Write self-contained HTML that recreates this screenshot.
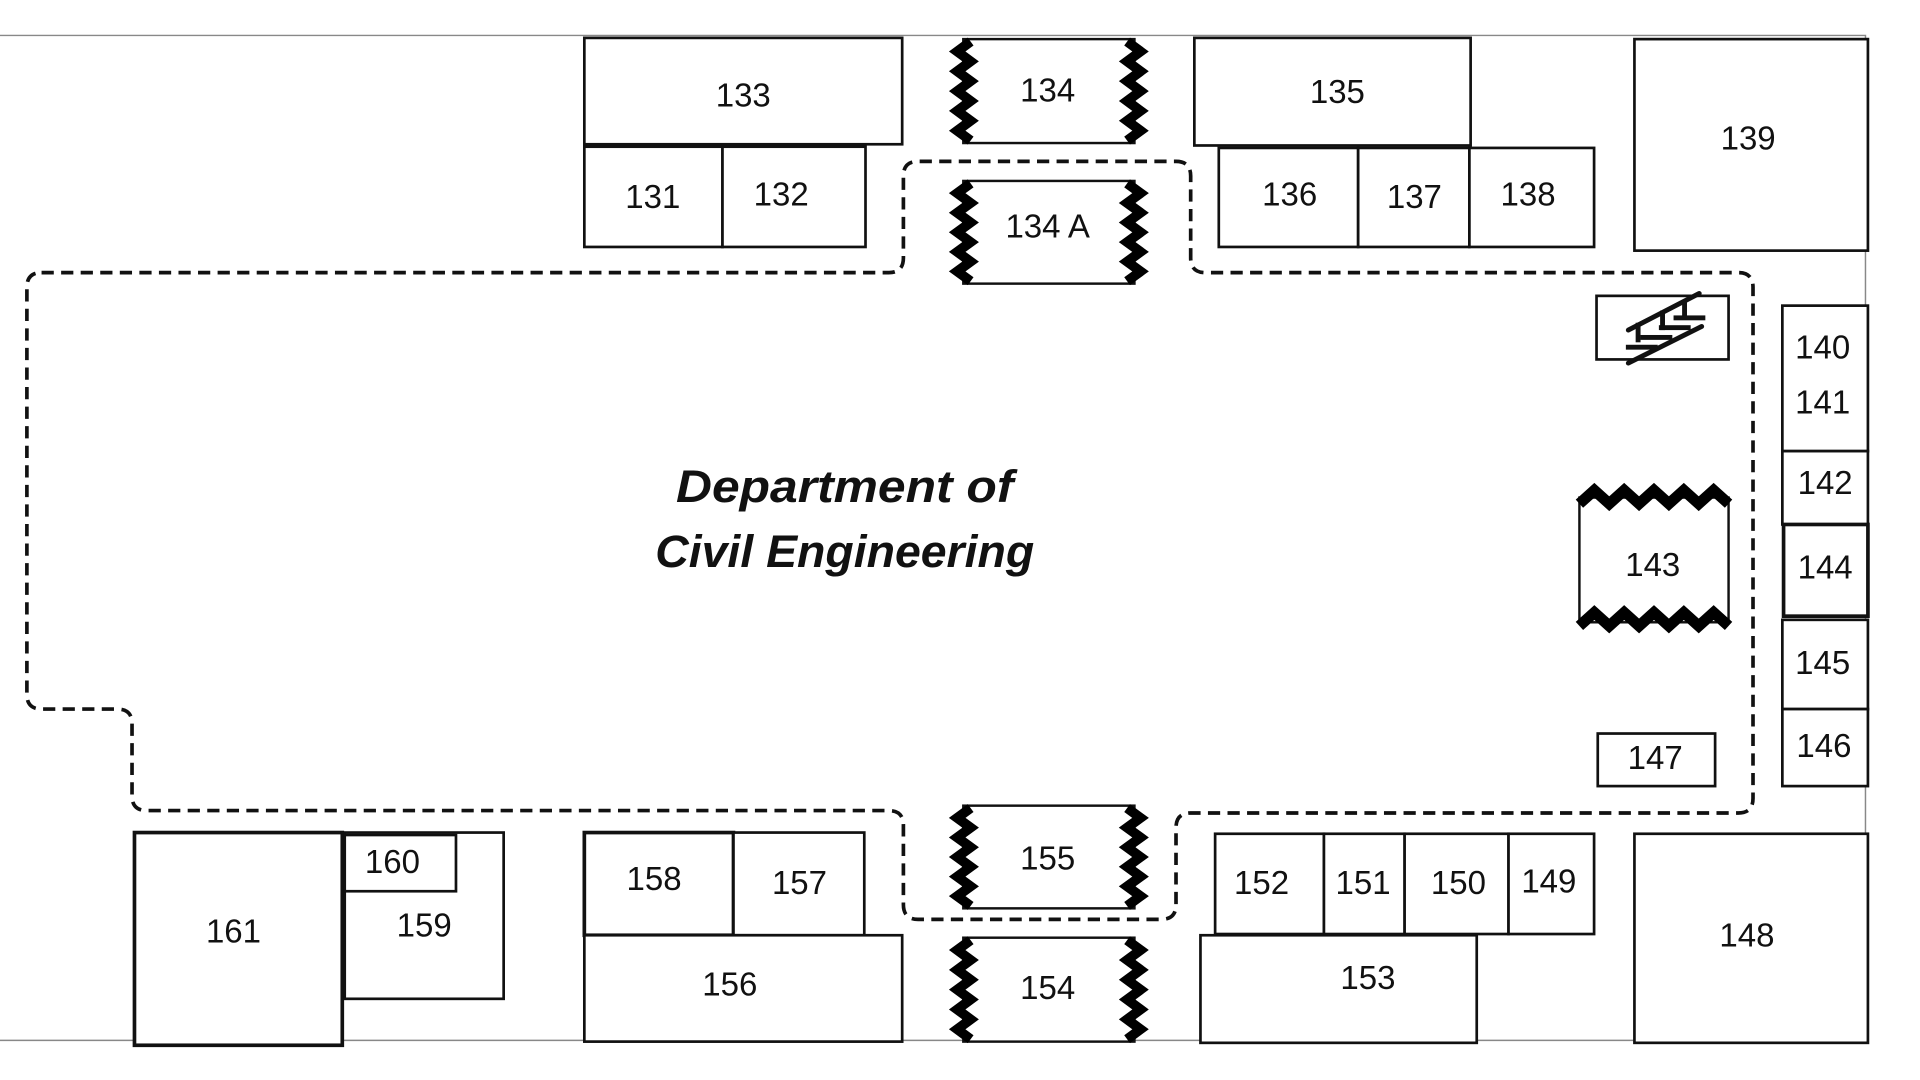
<!DOCTYPE html>
<html><head><meta charset="utf-8"><style>
html,body{margin:0;padding:0;background:#fff;width:1920px;height:1080px;overflow:hidden}
svg{display:block}
text{font-family:"Liberation Sans",sans-serif;font-size:27px;fill:#111;text-anchor:middle;dominant-baseline:middle}
</style></head><body>
<svg id="s" width="1920" height="1080" viewBox="0 0 1570.6 883.4" preserveAspectRatio="none">
<g transform="translate(2,2)">
<g fill="none" stroke="#888" stroke-width="1.2">
<path d="M-2 27 H1524 V849 H-2"/>
</g>
<g fill="#fff" stroke="#111" stroke-width="2.2">
<rect x="476" y="29" width="260" height="87"/>
<rect x="975" y="29" width="226" height="88"/>
<rect x="1335" y="30" width="191" height="173"/>
<rect x="476" y="118" width="113" height="82"/>
<rect x="589" y="118" width="117" height="82"/>
<rect x="995" y="119" width="114" height="81"/>
<rect x="1109" y="119" width="91" height="81"/>
<rect x="1200" y="119" width="102" height="81"/>
<rect x="1304" y="240" width="108" height="52"/>
<rect x="1456" y="248" width="70" height="119"/>
<rect x="1456" y="367" width="70" height="60"/>
<rect x="1457" y="427" width="69" height="75" stroke-width="3"/>
<rect x="1456" y="505" width="70" height="73"/>
<rect x="1456" y="578" width="70" height="63"/>
<rect x="1305" y="598" width="96" height="43"/>
<rect x="108" y="679" width="170" height="174" stroke-width="3"/>
<rect x="280" y="679" width="130" height="136"/>
<rect x="280" y="681" width="91" height="46"/>
<rect x="476" y="679" width="122" height="84" stroke-width="3"/>
<rect x="598" y="679" width="107" height="84"/>
<rect x="476" y="763" width="260" height="87"/>
<rect x="992" y="680" width="89" height="82"/>
<rect x="1081" y="680" width="66" height="82"/>
<rect x="1147" y="680" width="85" height="82"/>
<rect x="1232" y="680" width="70" height="82"/>
<rect x="980" y="763" width="226" height="88"/>
<rect x="1335" y="680" width="191" height="171"/>
</g>
<path fill="none" stroke="#111" stroke-width="3" stroke-dasharray="10,6"
d="M32 221 H725 Q737 221 737 209 V142 Q737 130 749 130 H960 Q972 130 972 142 V209 Q972 221 984 221 H1420 Q1432 221 1432 233 V651 Q1432 663 1420 663 H972 Q960 663 960 675 V738 Q960 750 948 750 H749 Q737 750 737 738 V673 Q737 661 725 661 H118 Q106 661 106 649 V590 Q106 578 94 578 H32 Q20 578 20 566 V233 Q20 221 32 221 Z"/>
<g id="z" fill="#fff" stroke="#111" stroke-width="2"></g>
<g fill="#111" stroke="#111" stroke-linecap="round">
<line x1="1330" y1="268" x2="1388" y2="238" stroke-width="4"/>
<line x1="1330" y1="295" x2="1390" y2="265" stroke-width="4"/>
<rect x="1336" y="262" width="4" height="16" stroke="none"/>
<rect x="1356" y="252" width="4" height="16" stroke="none"/>
<rect x="1374" y="243" width="4" height="14" stroke="none"/>
<rect x="1328" y="280" width="26" height="4" stroke="none"/>
<rect x="1340" y="272" width="26" height="4" stroke="none"/>
<rect x="1355" y="264" width="26" height="4" stroke="none"/>
<rect x="1367" y="256" width="26" height="4" stroke="none"/>
</g>
<g>
<text x="606" y="78">133</text>
<text x="855" y="74">134</text>
<text x="1092" y="75">135</text>
<text x="1428" y="113">139</text>
<text x="532" y="161">131</text>
<text x="637" y="159">132</text>
<text x="855" y="185">134 A</text>
<text x="1053" y="159">136</text>
<text x="1155" y="161">137</text>
<text x="1248" y="159">138</text>
<text x="1489" y="284">140</text>
<text x="1489" y="329">141</text>
<text x="1491" y="395">142</text>
<text x="1350" y="462">143</text>
<text x="1491" y="464">144</text>
<text x="1489" y="542">145</text>
<text x="1490" y="610">146</text>
<text x="1352" y="620">147</text>
<text x="189" y="762">161</text>
<text x="319" y="705">160</text>
<text x="345" y="757">159</text>
<text x="533" y="719">158</text>
<text x="652" y="722">157</text>
<text x="595" y="805">156</text>
<text x="855" y="702">155</text>
<text x="855" y="808">154</text>
<text x="1030" y="722">152</text>
<text x="1113" y="722">151</text>
<text x="1191" y="722">150</text>
<text x="1265" y="721">149</text>
<text x="1117" y="800">153</text>
<text x="1427" y="765">148</text>
<text x="689" y="399" textLength="276" lengthAdjust="spacingAndGlyphs" style="font-size:37px;font-weight:bold;font-style:italic">Department of</text>
<text x="689" y="452" textLength="310" lengthAdjust="spacingAndGlyphs" style="font-size:37px;font-weight:bold;font-style:italic">Civil Engineering</text>
</g>
</g>
</svg>
<script>
var g=document.getElementById('z'),NS='http://www.w3.org/2000/svg';
function pl(pts,w){var e=document.createElementNS(NS,'polyline');e.setAttribute('points',pts.map(function(q){return q.join(',')}).join(' '));e.setAttribute('fill','none');e.setAttribute('stroke','#000');e.setAttribute('stroke-width',w);e.setAttribute('stroke-linejoin','miter');g.appendChild(e);}
function zigV(x,y1,y2,dir,n){var h=(y2-y1)/n,p=[];for(var i=0;i<=n;i++){p.push([x,y1+i*h]);if(i<n)p.push([x-11*dir,y1+i*h+h/2]);}return p;}
function vbox(x1,x2,y1,y2){
 var r=document.createElementNS(NS,'rect');r.setAttribute('x',x1+10);r.setAttribute('y',y1);r.setAttribute('width',x2-x1-20);r.setAttribute('height',y2-y1);g.appendChild(r);
 pl(zigV(x1+16,y1+2,y2-2,1,5),8);pl(zigV(x2-16,y1+2,y2-2,-1,5),8);
}
vbox(776,936,30,115);vbox(776,936,146,230);vbox(776,936,657,741);vbox(776,936,765,850);
function zigH(y,x1,x2,n,d){var w=(x2-x1)/n,p=[];for(var i=0;i<=n;i++){p.push([x1+i*w,y]);if(i<n)p.push([x1+i*w+w/2,y-11*d]);}return p;}
var r=document.createElementNS(NS,'rect');r.setAttribute('x',1290);r.setAttribute('y',405);r.setAttribute('width',122);r.setAttribute('height',102);g.appendChild(r);
pl(zigH(410,1290,1412,5,1),9);pl(zigH(510,1290,1412,5,1),9);
</script>
</body></html>
